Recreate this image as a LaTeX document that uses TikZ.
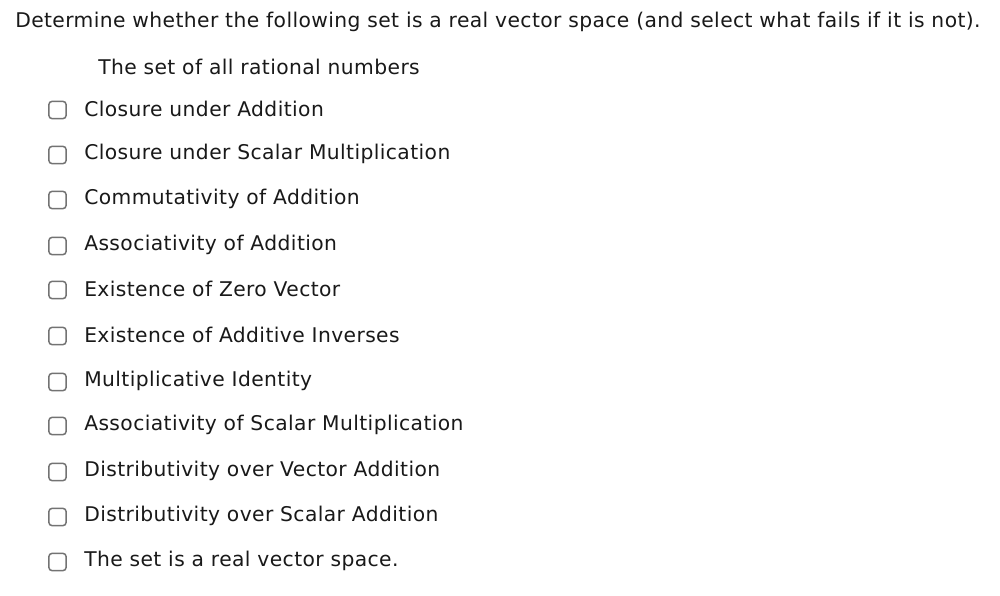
\documentclass[tikz,border=0pt]{standalone}
\usepackage{fontspec}
\setmainfont[LetterSpace=2]{DejaVu Sans}
\begin{document}
\begin{tikzpicture}[x=0.75pt,y=-0.75pt,
  lbl/.style={anchor=west,inner sep=0pt,font=\fontsize{15.2pt}{17pt}\selectfont,text=black!90},
  cbox/.style={draw=black!55,line width=1.1pt,rounded corners=2.5pt,minimum width=13pt,minimum height=13pt,inner sep=0pt}]
\useasboundingbox[fill=white] (0,0) rectangle (1000,596);
\node[lbl] (title) at (15,22) {Determine whether the following set is a real vector space (and select what fails if it is not).};
\node[lbl] (set) at (98,67) {The set of all rational numbers};
\foreach \y/\t [count=\i] in {109/Closure under Addition,154/Closure under Scalar Multiplication,199/Commutativity of Addition,245/Associativity of Addition,289/Existence of Zero Vector,335/Existence of Additive Inverses,381/Multiplicative Identity,425/Associativity of Scalar Multiplication,471/Distributivity over Vector Addition,516/Distributivity over Scalar Addition,561/The set is a real vector space.}{
  \node[cbox] (b\i) at (57.5,\y+1) {};
  \node[lbl] (t\i) at (84,\y) {\t};
}
\end{tikzpicture}
\end{document}
